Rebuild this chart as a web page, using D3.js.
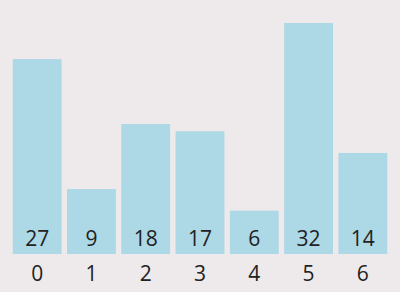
<!DOCTYPE html>
<html>
<head>
<meta charset="utf-8">
<script src="https://cdn.jsdelivr.net/npm/d3@7"></script>
<style>
  html, body { margin: 0; padding: 0; background: #eeeaec; }
  svg { display: block; }
  text { font-family: "Open Sans", sans-serif; fill: #222; }
</style>
</head>
<body>
<div id="chart"></div>
<script>
'use strict';

// chart data
var categories = ["0", "1", "2", "3", "4", "5", "6"];
var values = [27, 9, 18, 17, 6, 32, 14];

(function() {
    var width = 400, height = 292;
    var baseY = 254;

    var svg = d3.select("#chart")
        .append("svg")
            .attr("width", width)
            .attr("height", height);

    // X Scale
    var x = d3.scaleBand()
        .domain(categories)
        .range([10, 390])
        .paddingInner(0.1)
        .paddingOuter(0.05);

    // Y Scale
    var y = d3.scaleLinear()
        .domain([0, 32])
        .range([baseY, 23]);

    var data = categories.map(function(c, i) { return { cat: c, value: values[i] }; });

    // Bars
    svg.selectAll("rect")
        .data(data)
        .enter()
        .append("rect")
            .attr("x", function(d) { return x(d.cat); })
            .attr("y", function(d) { return y(d.value); })
            .attr("width", x.bandwidth())
            .attr("height", function(d) { return baseY - y(d.value); })
            .attr("fill", "#add8e6");

    // Value labels inside bars
    svg.selectAll(".val")
        .data(data)
        .enter()
        .append("text")
            .attr("class", "val")
            .attr("x", function(d) { return x(d.cat) + x.bandwidth() / 2; })
            .attr("y", baseY - 8)
            .attr("text-anchor", "middle")
            .attr("font-size", "21px")
            .text(function(d) { return d.value; });

    // X Axis
    var xAxisCall = d3.axisBottom(x).tickSize(0).tickPadding(0);
    var ax = svg.append("g")
        .attr("class", "x axis")
        .attr("transform", "translate(0," + baseY + ")")
        .call(xAxisCall);
    ax.select(".domain").remove();
    ax.selectAll("text")
        .attr("dy", null)
        .attr("y", 27)
        .attr("font-family", "Open Sans, sans-serif")
        .attr("font-size", "21px")
        .attr("fill", "#222");
})();
</script>
</body>
</html>
